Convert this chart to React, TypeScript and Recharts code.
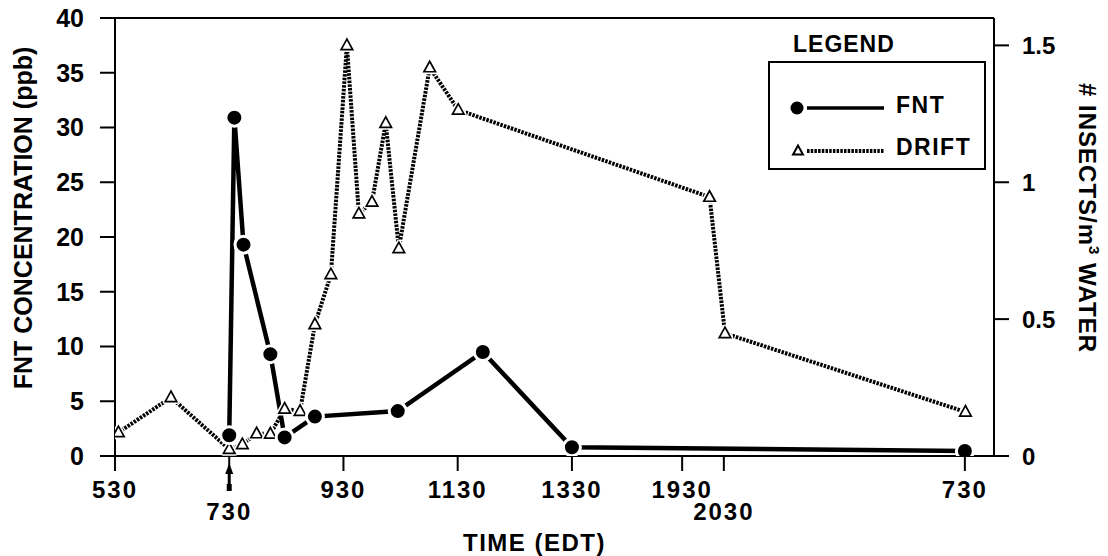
import React from 'react';
import { LineChart, Line, XAxis, YAxis, ReferenceLine, Legend } from 'recharts';

// x position is hours after 05:30; past 13:30 the axis is squeezed, so the
// evening and next-morning points sit at their drawn positions on that scale
const timeTicks = [0, 2, 4, 6, 8, 9.93, 10.66, 14.88];
const timeLabels = ['530', '730', '930', '1130', '1330', '1930', '2030', '730'];
const lowerRow = [false, true, false, false, false, false, true, false];

const fntHours = [2.0, 2.09, 2.25, 2.72, 2.97, 3.5, 4.95, 6.44, 8.0, 14.88];
const fntPpb = [1.9, 30.9, 19.3, 9.3, 1.7, 3.6, 4.1, 9.5, 0.8, 0.45];

const driftHours = [
  0.06, 0.98, 2.0, 2.23, 2.48, 2.72, 2.97, 3.24, 3.5, 3.78,
  4.06, 4.27, 4.5, 4.74, 4.97, 5.51, 6.01, 10.41, 10.68, 14.89,
];
const driftPerM3 = [
  0.086, 0.214, 0.025, 0.042, 0.082, 0.081, 0.172, 0.164, 0.481, 0.663,
  1.5, 0.885, 0.928, 1.216, 0.758, 1.419, 1.264, 0.946, 0.448, 0.161,
];

const ppbTicks = [0, 5, 10, 15, 20, 25, 30, 35, 40];
const driftTicks = [0, 0.5, 1, 1.5];

const fntData = fntHours.map((x, i) => ({ x, fnt: fntPpb[i] }));
const driftData = driftHours.map((x, i) => ({ x, drift: driftPerM3[i] }));

const FONT = '"Liberation Sans", Arial, Helvetica, sans-serif';
const INK = '#000';
const DRIFT_DASH = '2.5 1.2';

const FntDot = (props: any) => {
  const { cx, cy } = props;
  if (cx == null || cy == null) return null;
  return <circle cx={cx} cy={cy} r={8.5} fill={INK} stroke="#fff" strokeWidth={3} />;
};

const trianglePoints = (cx: number, cy: number, s: number) =>
  `${cx},${cy - s * 0.6} ${cx - s * 0.55},${cy + s * 0.4} ${cx + s * 0.55},${cy + s * 0.4}`;

const DriftDot = (props: any) => {
  const { cx, cy } = props;
  if (cx == null || cy == null) return null;
  const pts = trianglePoints(cx, cy, 10.5);
  return (
    <g>
      <polygon points={pts} fill="#fff" stroke="#fff" strokeWidth={5} strokeLinejoin="round" />
      <polygon points={pts} fill="#fff" stroke={INK} strokeWidth={1.7} />
    </g>
  );
};

const TimeTick = (props: any) => {
  const { x, y, payload } = props;
  const i = timeTicks.indexOf(payload.value);
  const lower = lowerRow[i];
  return (
    <g>
      {i === 1 && (
        <g>
          <polygon points={`${x},${y - 10} ${x - 4},${y + 1} ${x + 4},${y + 1}`} fill={INK} />
          <line x1={x} x2={x} y1={y} y2={y + 17} stroke={INK} strokeWidth={3} />
          <rect x={x - 2.5} y={y + 11} width={5} height={7} fill={INK} />
        </g>
      )}
      <text
        x={x}
        y={y + (lower ? 47 : 25)}
        textAnchor="middle"
        fontFamily={FONT}
        fontWeight={700}
        fontSize={24}
        letterSpacing={2}
        fill={INK}
      >
        {timeLabels[i]}
      </text>
    </g>
  );
};

const titleStyle = { fontFamily: FONT, fontWeight: 700, fill: INK } as const;

const LeftTitle = ({ viewBox }: any) => {
  const x = viewBox.x + 32;
  const y = viewBox.y + viewBox.height / 2 - 19;
  return (
    <text x={x} y={y} transform={`rotate(-90 ${x} ${y})`} textAnchor="middle" fontSize={25} {...titleStyle}>
      FNT CONCENTRATION (ppb)
    </text>
  );
};

const RightTitle = ({ viewBox }: any) => {
  const x = viewBox.x + 85;
  const y = viewBox.y + viewBox.height / 2 - 19;
  return (
    <text x={x} y={y} transform={`rotate(90 ${x} ${y})`} textAnchor="middle" fontSize={24} letterSpacing={1} {...titleStyle}>
      # INSECTS/m
      <tspan fontSize={15} dy={-10}>3</tspan>
      <tspan dy={10}> WATER</tspan>
    </text>
  );
};

const TimeTitle = ({ viewBox }: any) => (
  <text
    x={viewBox.x + viewBox.width / 2 - 20}
    y={viewBox.y + 95}
    textAnchor="middle"
    fontSize={24}
    letterSpacing={1.5}
    {...titleStyle}
  >
    TIME (EDT)
  </text>
);

const LegendBox = () => (
  <svg width={240} height={150} style={{ display: 'block' }}>
    <text x={33} y={22} fontSize={23} letterSpacing={1} {...titleStyle}>LEGEND</text>
    <rect x={9} y={32} width={216} height={107} fill="#fff" stroke={INK} strokeWidth={2} />
    <circle cx={37} cy={78} r={6.5} fill={INK} />
    <line x1={47} x2={124} y1={78} y2={78} stroke={INK} strokeWidth={3.5} />
    <text x={136} y={83} fontSize={23} letterSpacing={1.5} {...titleStyle}>FNT</text>
    <polygon points={trianglePoints(38, 121, 9)} fill="#fff" stroke={INK} strokeWidth={2} />
    <line x1={47} x2={124} y1={121} y2={121} stroke={INK} strokeWidth={4} strokeDasharray={DRIFT_DASH} />
    <text x={136} y={125} fontSize={23} letterSpacing={1.5} {...titleStyle}>DRIFT</text>
  </svg>
);

const axisStroke = { stroke: INK, strokeWidth: 2 };
const tickFont = { fill: INK, fontSize: 25, fontWeight: 700, fontFamily: FONT };

export default function App() {
  return (
    <div style={{ position: 'absolute', left: 0, top: 0, background: '#fff' }}>
      <LineChart width={1108} height={556} margin={{ top: 18, right: 0, bottom: 0, left: 0 }}>
        <XAxis
          type="number"
          dataKey="x"
          domain={[0, 15.39]}
          ticks={timeTicks}
          interval={0}
          allowDataOverflow
          height={100}
          tickSize={15}
          axisLine={axisStroke}
          tickLine={axisStroke}
          tick={<TimeTick />}
          label={{ content: <TimeTitle /> }}
        />
        <YAxis
          yAxisId="left"
          domain={[0, 40]}
          ticks={ppbTicks}
          interval={0}
          allowDataOverflow
          width={115}
          tickSize={15}
          tickMargin={16}
          axisLine={axisStroke}
          tickLine={axisStroke}
          tick={tickFont}
          label={{ content: <LeftTitle /> }}
        />
        <YAxis
          yAxisId="right"
          orientation="right"
          domain={[0, 1.6]}
          ticks={driftTicks}
          interval={0}
          allowDataOverflow
          width={114}
          tickSize={15}
          tickMargin={13}
          axisLine={axisStroke}
          tickLine={axisStroke}
          tick={{ ...tickFont, fontSize: 24 }}
          label={{ content: <RightTitle /> }}
        />
        <ReferenceLine yAxisId="left" y={40} stroke={INK} strokeWidth={2} />
        <Line
          data={driftData}
          dataKey="drift"
          yAxisId="right"
          type="linear"
          stroke={INK}
          strokeWidth={4}
          strokeDasharray={DRIFT_DASH}
          dot={<DriftDot />}
          activeDot={false}
          isAnimationActive={false}
        />
        <Line
          data={fntData}
          dataKey="fnt"
          yAxisId="left"
          type="linear"
          stroke={INK}
          strokeWidth={4.5}
          dot={<FntDot />}
          activeDot={false}
          isAnimationActive={false}
        />
        <Legend
          layout="horizontal"
          verticalAlign="middle"
          align="center"
          content={<LegendBox />}
          wrapperStyle={{ left: 760, top: 30, width: 240, height: 150 }}
        />
      </LineChart>
    </div>
  );
}
